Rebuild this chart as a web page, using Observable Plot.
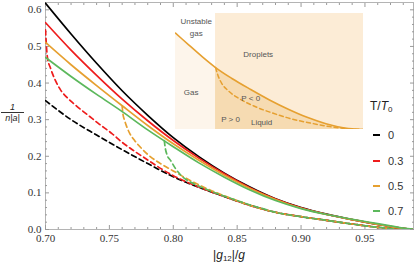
<!DOCTYPE html>
<html><head><meta charset="utf-8">
<script src="https://cdn.jsdelivr.net/npm/d3@7"></script>
<script src="https://cdn.jsdelivr.net/npm/@observablehq/plot@0.6"></script>
<style>
body{margin:0;background:#fff}
#wrap{position:relative;width:415px;height:263px;overflow:hidden}
.abs{position:absolute;white-space:nowrap}
sub{font-size:8px;vertical-align:-2px;line-height:0}
</style></head><body>
<div id="wrap"></div>
<script>
// ---- main data ----
const temps = ["0", "0.3", "0.5", "0.7"];
const colors = ["#000000", "#ee1c1c", "#e6a030", "#5cb85c"];

const xSolid = [0.70,0.72,0.74,0.76,0.78,0.80,0.82,0.84,0.86,0.88,0.90,0.92,0.94,0.96,0.97,0.98,0.988];
const solid0  = [0.618,0.534,0.454,0.379,0.312,0.251,0.199,0.154,0.116,0.084,0.060,0.042,0.027,0.014,0.008,0.003,0.000];
const solid03 = [0.565,0.490,0.421,0.356,0.297,0.243,0.195,0.152,0.114,0.083,0.059,0.041,0.027,0.014,0.008,0.003,0.000];
const solid05 = [0.511,0.450,0.393,0.338,0.284,0.234,0.189,0.148,0.112,0.082,0.058,0.041,0.027,0.014,0.008,0.003,0.000];
const solid07 = [0.470,0.418,0.369,0.322,0.272,0.226,0.182,0.143,0.108,0.079,0.057,0.041,0.028,0.016,0.010,0.004,0.001];

const xDash0 = [0.70,0.72,0.74,0.76,0.78,0.80,0.82,0.84,0.86,0.88,0.90,0.92,0.94,0.96,0.97,0.98,0.988];
const dash0  = [0.352,0.300,0.258,0.218,0.180,0.144,0.115,0.090,0.066,0.047,0.035,0.025,0.015,0.006,0.003,0.001,0.000];
const xDash03 = [0.700,0.7015,0.704,0.708,0.712,0.717,0.725,0.733,0.742,0.752,0.76,0.77,0.78,0.79,0.80,0.82,0.84,0.86,0.88,0.90,0.92,0.94,0.96,0.97,0.98,0.988];
const dash03  = [0.545,0.470,0.440,0.405,0.380,0.360,0.335,0.313,0.288,0.262,0.238,0.213,0.190,0.167,0.147,0.116,0.090,0.066,0.047,0.035,0.025,0.015,0.006,0.003,0.001,0.000];
const xDash05 = [0.760,0.7605,0.762,0.764,0.766,0.770,0.775,0.78,0.79,0.80,0.81,0.82,0.83,0.84,0.86,0.88,0.90,0.92,0.94,0.96,0.97,0.98,0.988];
const dash05  = [0.338,0.318,0.297,0.277,0.262,0.242,0.222,0.205,0.180,0.160,0.140,0.122,0.106,0.092,0.066,0.047,0.035,0.025,0.015,0.006,0.003,0.001,0.000];
const xDash07 = [0.793,0.7935,0.795,0.798,0.802,0.806,0.816,0.825,0.832,0.84,0.85,0.86,0.87,0.88,0.90,0.92,0.94,0.96,0.97,0.98,0.988];
const dash07  = [0.243,0.228,0.205,0.188,0.165,0.148,0.125,0.111,0.101,0.091,0.079,0.067,0.057,0.047,0.035,0.025,0.015,0.006,0.003,0.001,0.000];

const majorX = [0.70,0.75,0.80,0.85,0.90,0.95];
const minorX = [0.71,0.72,0.73,0.74,0.76,0.77,0.78,0.79,0.81,0.82,0.83,0.84,0.86,0.87,0.88,0.89,0.91,0.92,0.93,0.94,0.96,0.97,0.98];
const majorY = [0.0,0.1,0.2,0.3,0.4,0.5,0.6];
const minorY = [0.02,0.04,0.06,0.08,0.12,0.14,0.16,0.18,0.22,0.24,0.26,0.28,0.32,0.34,0.36,0.38,0.42,0.44,0.46,0.48,0.52,0.54,0.56,0.58];

// ---- inset (schematic) data ----
const insetSolidX = [0.00,0.07,0.14,0.213,0.30,0.40,0.50,0.60,0.70,0.80,0.90,1.00];
const insetSolidY = [0.830,0.730,0.630,0.534,0.440,0.345,0.255,0.175,0.105,0.050,0.013,0.000];
const insetDashX = [0.213,0.225,0.245,0.28,0.34,0.42,0.52,0.62,0.72,0.82,0.92,1.00];
const insetDashY = [0.534,0.470,0.400,0.335,0.265,0.200,0.140,0.090,0.055,0.025,0.006,0.000];
const gasEdge = 0.213;
const insetLabels = ["Unstable", "gas", "Droplets", "Gas", "P < 0", "P > 0", "Liquid"];
const insetLabelX = [0.11, 0.11, 0.44, 0.083, 0.40, 0.293, 0.458];
const insetLabelY = [0.93, 0.828, 0.647, 0.319, 0.267, 0.086, 0.060];

// ---- build ----
const mk = (xs, ys) => xs.map((x, i) => ({x, y: ys[i]}));
const solids = [solid0, solid03, solid05, solid07].map(ys => mk(xSolid, ys));
const dashes = [mk(xDash0, dash0), mk(xDash03, dash03), mk(xDash05, dash05), mk(xDash07, dash07)];

const tickCol = "#9a9a9a";
const marks = [Plot.frame({stroke: "#b4b4b4"})];
for (const [anchor, size, ticks] of [["bottom",-4,majorX],["bottom",-2,minorX],["top",-4,majorX],["top",-2,minorX]])
  marks.push(Plot.axisX(ticks, {anchor, tickSize: size, tickFormat: () => "", stroke: tickCol, label: null}));
for (const [anchor, size, ticks] of [["left",-4,majorY],["left",-2,minorY],["right",-4,majorY],["right",-2,minorY]])
  marks.push(Plot.axisY(ticks, {anchor, tickSize: size, tickFormat: () => "", stroke: tickCol, label: null}));
marks.push(Plot.axisX(majorX, {anchor: "bottom", tickSize: 0, tickPadding: 5, tickFormat: d => d.toFixed(2), fill: "#333", fontSize: 11, label: null}));
marks.push(Plot.axisY(majorY, {anchor: "left", tickSize: 0, tickPadding: 4, tickFormat: d => d.toFixed(1), fill: "#333", fontSize: 11, label: null}));
dashes.forEach((d, i) => marks.push(Plot.line(d, {x: "x", y: "y", stroke: colors[i], strokeWidth: 1.7, strokeDasharray: "5,3.5", curve: "monotone-x", clip: true})));
solids.forEach((d, i) => marks.push(Plot.line(d, {x: "x", y: "y", stroke: colors[i], strokeWidth: 1.7, curve: "monotone-x", clip: true})));

const main = Plot.plot({
  width: 415, height: 263,
  marginLeft: 45, marginRight: 2, marginTop: 2, marginBottom: 34,
  x: {domain: [0.70, 0.988]},
  y: {domain: [0, 0.62]},
  style: {fontFamily: "'Liberation Serif', serif", fontSize: "11px", background: "transparent"},
  marks
});
const wrap = document.getElementById("wrap");
wrap.appendChild(main);

// inset
const insetSolid = mk(insetSolidX, insetSolidY);
const insetDash = mk(insetDashX, insetDashY);
const orange = "#e6a030";
const inset = Plot.plot({
  width: 188, height: 116, margin: 0,
  x: {domain: [0, 1], axis: null},
  y: {domain: [0, 1], axis: null},
  style: {fontFamily: "'Liberation Sans', Arial, sans-serif", background: "#fff"},
  marks: [
    Plot.rect([gasEdge], {x1: d => d, x2: 1, y1: 0, y2: 1, fill: "#fcecd6"}),
    Plot.areaY(insetSolid.filter(d => d.x <= gasEdge), {x: "x", y: "y", fill: "#fdf5eb", curve: "monotone-x"}),
    Plot.areaY(insetSolid.filter(d => d.x >= gasEdge), {x: "x", y: "y", fill: "#f6dbb2", curve: "monotone-x"}),
    Plot.line(insetDash, {x: "x", y: "y", stroke: orange, strokeWidth: 1.5, strokeDasharray: "4,3", curve: "monotone-x"}),
    Plot.line(insetSolid, {x: "x", y: "y", stroke: orange, strokeWidth: 1.6, curve: "monotone-x"}),
    Plot.text(insetLabels, {x: (d, i) => insetLabelX[i], y: (d, i) => insetLabelY[i], text: d => d, fontSize: 8, fill: "#555"})
  ]
});
inset.style.position = "absolute";
inset.style.left = "175px";
inset.style.top = "13px";
wrap.appendChild(inset);

// legend
const leg = document.createElement("div");
leg.className = "abs";
leg.style.cssText = "left:370px;top:99px;font:12px 'Liberation Sans',Arial,sans-serif;color:#222";
leg.innerHTML = "T/<i>T</i><sub>0</sub>";
wrap.appendChild(leg);
const legY = [135, 160.7, 185.7, 210.7];
temps.forEach((t, i) => {
  const sw = document.createElement("div");
  sw.className = "abs";
  sw.style.cssText = `left:373px;top:${legY[i]-1}px;width:7px;height:2px;background:${colors[i]}`;
  wrap.appendChild(sw);
  const lb = document.createElement("div");
  lb.className = "abs";
  lb.style.cssText = `left:388px;top:${legY[i]-7}px;font:11px 'Liberation Sans',Arial,sans-serif;color:#333;line-height:14px`;
  lb.textContent = t;
  wrap.appendChild(lb);
});

// axis labels
const xl = document.createElement("div");
xl.className = "abs";
xl.style.cssText = "left:229px;top:248px;transform:translateX(-50%);font:12px 'Liberation Sans',Arial,sans-serif;color:#222";
xl.innerHTML = "|<i>g</i><sub>12</sub>|/<i>g</i>";
wrap.appendChild(xl);

const yl = document.createElement("div");
yl.className = "abs";
yl.style.cssText = "left:1px;top:103px;width:23px;text-align:center;font:italic 9px 'Liberation Sans',Arial,sans-serif;color:#222;line-height:9px";
yl.innerHTML = "<div>1</div><div style='border-top:0.8px solid #333;padding-top:1px'>n|a|</div>";
wrap.appendChild(yl);
</script>
</body></html>
